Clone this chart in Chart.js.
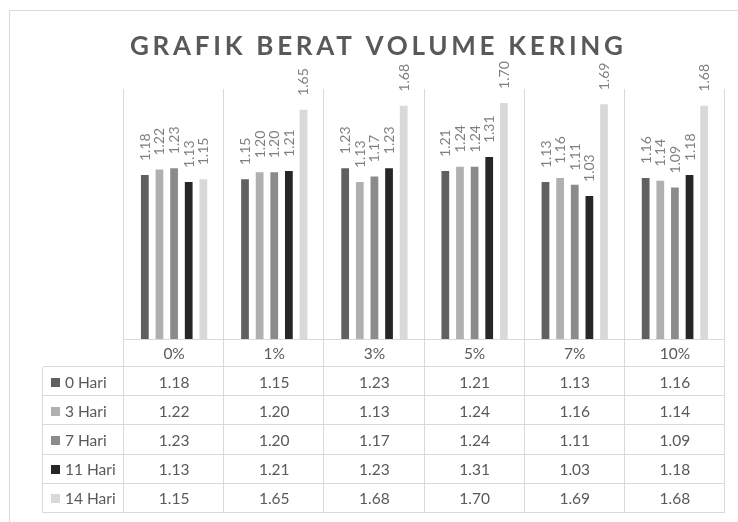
<!DOCTYPE html>
<html>
<head>
<meta charset="utf-8">
<script src="https://cdn.jsdelivr.net/npm/chart.js@4"></script>
<style>
  html, body { margin: 0; padding: 0; background: #ffffff; }
  #wrap { width: 738px; height: 522px; position: relative; }
</style>
</head>
<body>
<div id="wrap"><canvas id="c" width="738" height="522"></canvas></div>
<script>
const titleText = 'GRAFIK BERAT VOLUME KERING';
const categories = ['0%', '1%', '3%', '5%', '7%', '10%'];
const seriesNames = ['0 Hari', '3 Hari', '7 Hari', '11 Hari', '14 Hari'];
const hari0  = [1.18, 1.15, 1.23, 1.21, 1.13, 1.16];
const hari3  = [1.22, 1.20, 1.13, 1.24, 1.16, 1.14];
const hari7  = [1.23, 1.20, 1.17, 1.24, 1.11, 1.09];
const hari11 = [1.13, 1.21, 1.23, 1.31, 1.03, 1.18];
const hari14 = [1.15, 1.65, 1.68, 1.70, 1.69, 1.68];
const seriesColors = ['#606060', '#b0b0b0', '#8b8b8b', '#262626', '#d9d9d9'];
const yMin = 0, yMax = 1.8;

const allSeries = [hari0, hari3, hari7, hari11, hari14];
const gridColor = '#d9d9d9';
const textColor = '#595959';
const labelColor = '#7f7f7f';

const bgPlugin = {
  id: 'bg',
  beforeDraw(chart) {
    const ctx = chart.ctx;
    ctx.save();
    ctx.fillStyle = '#ffffff';
    ctx.fillRect(0, 0, chart.width, chart.height);
    // outer chart border (extends beyond the visible window)
    ctx.strokeStyle = gridColor;
    ctx.lineWidth = 1;
    ctx.strokeRect(9.5, 10.5, chart.width + 20, chart.height + 20);
    // title
    ctx.fillStyle = textColor;
    ctx.font = 'bold 26px Lato';
    ctx.textBaseline = 'alphabetic';
    ctx.textAlign = 'left';
    ctx.letterSpacing = '0px';
    const w0 = ctx.measureText(titleText).width;
    const targetW = 493;
    const sp = (targetW - w0) / (titleText.length - 1);
    ctx.letterSpacing = sp + 'px';
    ctx.fillText(titleText, 130, 55);
    ctx.restore();
  },
  beforeDatasetsDraw(chart) {
    const ctx = chart.ctx;
    const a = chart.chartArea;
    const n = categories.length;
    const cw = (a.right - a.left) / n;
    ctx.save();
    ctx.strokeStyle = gridColor;
    ctx.lineWidth = 1;
    ctx.beginPath();
    for (let i = 0; i <= n; i++) {
      const x = Math.round(a.left + i * cw) - 0.5;
      ctx.moveTo(x, a.top);
      ctx.lineTo(x, 513);
    }
    ctx.stroke();
    ctx.restore();
  },
  afterDatasetsDraw(chart) {
    const ctx = chart.ctx;
    ctx.save();
    ctx.fillStyle = labelColor;
    ctx.font = '14px Lato';
    ctx.textAlign = 'left';
    ctx.textBaseline = 'alphabetic';
    chart.data.datasets.forEach((ds, di) => {
      const meta = chart.getDatasetMeta(di);
      meta.data.forEach((bar, i) => {
        const v = ds.data[i];
        ctx.save();
        ctx.translate(bar.x, bar.y - 14);
        ctx.rotate(-Math.PI / 2);
        ctx.fillText(v.toFixed(2), 0, 5);
        ctx.restore();
      });
    });
    ctx.restore();
  },
  afterDraw(chart) {
    const ctx = chart.ctx;
    const a = chart.chartArea;
    const xs = chart.scales.x;
    const n = categories.length;
    const headTop = a.bottom;
    const headBot = 367;
    const tableLeft = 43;
    const tableBot = 513;
    const rowH = (tableBot - headBot) / seriesNames.length;
    ctx.save();
    ctx.strokeStyle = gridColor;
    ctx.lineWidth = 1;
    ctx.beginPath();
    ctx.moveTo(a.left, headTop + 0.5);
    ctx.lineTo(a.right, headTop + 0.5);
    for (let r = 0; r <= seriesNames.length; r++) {
      const y = Math.round(headBot + r * rowH) - 0.5;
      ctx.moveTo(tableLeft, y);
      ctx.lineTo(a.right, y);
    }
    ctx.moveTo(tableLeft - 0.5, headBot);
    ctx.lineTo(tableLeft - 0.5, tableBot);
    ctx.stroke();

    ctx.fillStyle = textColor;
    ctx.font = '15.5px Lato';
    ctx.textBaseline = 'middle';
    ctx.textAlign = 'center';
    categories.forEach((c, i) => {
      ctx.fillText(c, xs.getPixelForValue(i), (headTop + headBot) / 2 + 1);
    });
    seriesNames.forEach((s, r) => {
      const yc = headBot + r * rowH + rowH / 2 + 1;
      ctx.fillStyle = seriesColors[r];
      ctx.fillRect(51, Math.round(yc - 5), 9, 9);
      ctx.fillStyle = textColor;
      ctx.textAlign = 'left';
      ctx.fillText(s, 65, yc);
      ctx.textAlign = 'center';
      allSeries[r].forEach((v, i) => {
        ctx.fillText(v.toFixed(2), xs.getPixelForValue(i), yc);
      });
    });
    ctx.restore();
  }
};

new Chart(document.getElementById('c'), {
  type: 'bar',
  data: {
    labels: categories,
    datasets: seriesNames.map((name, i) => ({
      label: name,
      data: allSeries[i],
      backgroundColor: seriesColors[i],
      borderWidth: 0,
      categoryPercentage: 0.73,
      barPercentage: 0.53
    }))
  },
  options: {
    responsive: false,
    animation: false,
    layout: { padding: { left: 124, right: 13, top: 89, bottom: 183 } },
    plugins: {
      legend: { display: false },
      title: { display: false },
      tooltip: { enabled: false }
    },
    scales: {
      x: { display: false },
      y: { display: false, min: yMin, max: yMax }
    }
  },
  plugins: [bgPlugin]
});
</script>
</body>
</html>
